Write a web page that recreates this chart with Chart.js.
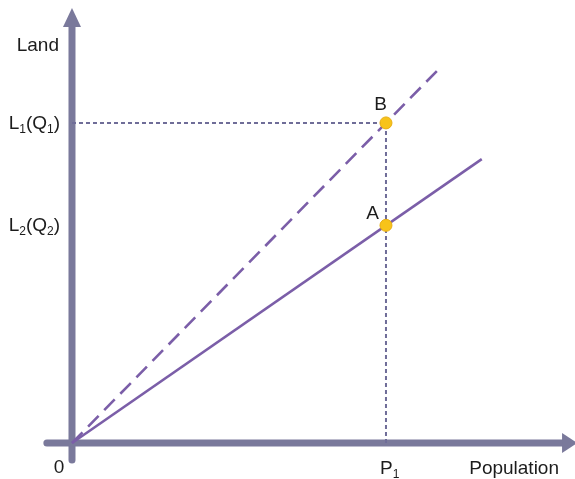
<!DOCTYPE html>
<html>
<head>
<meta charset="utf-8">
<script src="https://cdn.jsdelivr.net/npm/chart.js@4.4.1/dist/chart.umd.min.js"></script>
<style>
  html, body { margin: 0; padding: 0; background: #fff; }
  #wrap { width: 575px; height: 479px; }
</style>
</head>
<body>
<div id="wrap"><canvas id="landChart" width="575" height="479"></canvas></div>
<script>
// 値（概念図なので単位は任意）
const population = [0, 10];        // 0 と P1
const landQ1 = [0, 10];            // B点 = L1(Q1)
const landQ2 = [0, 6.8];           // A点 = L2(Q2)
const dashedEnd = [11.7, 11.7];    // 破線の終点
const solidEnd = [13.05, 8.87];    // 実線の終点
const axisX = [-0.8, 15.64];       // 横軸（矢印の根元まで）
const axisY = [-0.53, 13.03];      // 縦軸（矢印の根元まで）
const pointLabels = ['B', 'A'];
const yTickLabels = ['L_1(Q_1)', 'L_2(Q_2)'];
const xTickLabels = ['0', 'P_1'];
const axisTitles = ['Population', 'Land'];

const AXIS_COLOR = '#7a799b';
const LINE_COLOR = '#7b5ea8';
const GUIDE_COLOR = '#6f6d98';
const POINT_COLOR = '#f7c31a';
const TEXT_COLOR = '#1c1c1c';
const MAIN_FONT = '19px "Liberation Sans", Arial, sans-serif';
const SUB_FONT = '12px "Liberation Sans", Arial, sans-serif';

// 添字つき文字列を描く ("_1" を下付きに)
function drawText(ctx, str, x, y, align) {
    let parts = str.split(/_(\d)/);
    let widths = parts.map((p, i) => {
        ctx.font = i % 2 ? SUB_FONT : MAIN_FONT;
        return ctx.measureText(p).width;
    });
    let total = widths.reduce((a, b) => a + b, 0);
    let cx = align === 'right' ? x - total : align === 'center' ? x - total / 2 : x;
    ctx.textAlign = 'left';
    ctx.textBaseline = 'alphabetic';
    ctx.fillStyle = TEXT_COLOR;
    parts.forEach((p, i) => {
        ctx.font = i % 2 ? SUB_FONT : MAIN_FONT;
        ctx.fillText(p, cx, i % 2 ? y + 4 : y);
        cx += widths[i];
    });
}

// 矢印と文字
const annotate = {
    id: 'annotate',
    afterDatasetsDraw(chart) {
        let ctx = chart.ctx;
        let xs = chart.scales.x, ys = chart.scales.y;
        let x0 = xs.getPixelForValue(0), y0 = ys.getPixelForValue(0);
        ctx.save();
        ctx.fillStyle = AXIS_COLOR;
        // 横軸の矢印
        let xb = xs.getPixelForValue(axisX[1]);
        ctx.beginPath();
        ctx.moveTo(xb - 1, y0 - 10);
        ctx.lineTo(xb + 14, y0);
        ctx.lineTo(xb - 1, y0 + 10);
        ctx.closePath();
        ctx.fill();
        // 縦軸の矢印
        let yb = ys.getPixelForValue(axisY[1]);
        ctx.beginPath();
        ctx.moveTo(x0 - 9, yb + 1);
        ctx.lineTo(x0, yb - 18);
        ctx.lineTo(x0 + 9, yb + 1);
        ctx.closePath();
        ctx.fill();

        // 縦軸の目盛り文字
        let lx = x0 - 12;
        drawText(ctx, yTickLabels[0], lx, ys.getPixelForValue(landQ1[1]) + 6, 'right');
        drawText(ctx, yTickLabels[1], lx, ys.getPixelForValue(landQ2[1]) + 6, 'right');
        drawText(ctx, axisTitles[1], lx - 1, 51, 'right');

        // 横軸の文字
        drawText(ctx, xTickLabels[0], x0 - 13, 473, 'center');
        drawText(ctx, xTickLabels[1], xs.getPixelForValue(population[1]) - 6, 474, 'left');
        drawText(ctx, axisTitles[0], 559, 474, 'right');

        // 点のラベル
        let px = xs.getPixelForValue(population[1]);
        drawText(ctx, pointLabels[0], px + 1, ys.getPixelForValue(landQ1[1]) - 13, 'right');
        drawText(ctx, pointLabels[1], px - 7, ys.getPixelForValue(landQ2[1]) - 6, 'right');
        ctx.restore();
    }
};

let ctx = document.getElementById('landChart').getContext('2d');

let landChart = new Chart(ctx, {
    type: 'scatter',
    data: {
        datasets: [
            {
                // 点 B, A
                data: [{ x: population[1], y: landQ1[1] }, { x: population[1], y: landQ2[1] }],
                backgroundColor: POINT_COLOR,
                borderColor: '#e8ad10',
                borderWidth: 1,
                pointRadius: 6,
                showLine: false,
                order: 0
            },
            {
                // 破線 (Q1)
                data: [{ x: 0, y: 0 }, { x: dashedEnd[0], y: dashedEnd[1] }],
                showLine: true,
                borderColor: LINE_COLOR,
                borderWidth: 2.6,
                borderDash: [15, 8],
                pointRadius: 0,
                clip: false,
                order: 1
            },
            {
                // 実線 (Q2)
                data: [{ x: 0, y: 0 }, { x: solidEnd[0], y: solidEnd[1] }],
                showLine: true,
                borderColor: LINE_COLOR,
                borderWidth: 2.6,
                pointRadius: 0,
                clip: false,
                order: 1
            },
            {
                // 補助線（横）
                data: [{ x: 0, y: landQ1[1] }, { x: population[1], y: landQ1[1] }],
                showLine: true,
                borderColor: GUIDE_COLOR,
                borderWidth: 2,
                borderDash: [4, 3],
                pointRadius: 0,
                order: 2
            },
            {
                // 補助線（縦）
                data: [{ x: population[1], y: 0 }, { x: population[1], y: landQ1[1] }],
                showLine: true,
                borderColor: GUIDE_COLOR,
                borderWidth: 2,
                borderDash: [4, 3],
                pointRadius: 0,
                order: 2
            },
            {
                // 横軸
                data: [{ x: axisX[0], y: 0 }, { x: axisX[1], y: 0 }],
                showLine: true,
                borderColor: AXIS_COLOR,
                borderWidth: 7,
                borderCapStyle: 'round',
                pointRadius: 0,
                clip: false,
                order: 3
            },
            {
                // 縦軸
                data: [{ x: 0, y: axisY[0] }, { x: 0, y: axisY[1] }],
                showLine: true,
                borderColor: AXIS_COLOR,
                borderWidth: 7,
                borderCapStyle: 'round',
                pointRadius: 0,
                clip: false,
                order: 3
            }
        ]
    },
    options: {
        responsive: false,
        animation: false,
        devicePixelRatio: 1,
        layout: { autoPadding: false, padding: { left: 47, right: 0, top: 8, bottom: 19 } },
        plugins: {
            legend: { display: false },
            tooltip: { enabled: false }
        },
        scales: {
            x: { type: 'linear', display: false, min: -0.796, max: 16.02 },
            y: { type: 'linear', display: false, min: -0.531, max: 13.59 }
        }
    },
    plugins: [annotate]
});
</script>
</body>
</html>
